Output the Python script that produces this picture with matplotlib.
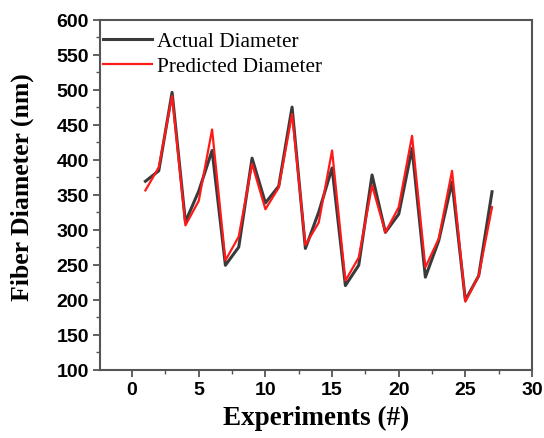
import matplotlib
matplotlib.use("Agg")
import matplotlib.pyplot as plt
from matplotlib.ticker import MultipleLocator

experiments = list(range(1, 28))
actual = [369, 384, 496, 311, 355, 413, 249, 275, 402, 338, 362, 475, 273, 325,
          388, 220, 249, 378, 296, 322, 416, 232, 284, 368, 199, 234, 354]
predicted = [356, 389, 491, 306, 341, 443, 256, 290, 394, 329, 360, 465, 278, 310,
             413, 227, 260, 363, 296, 332, 434, 246, 287, 384, 197, 234, 332]

fig = plt.figure(figsize=(5.44, 4.39), dpi=100)
ax = fig.add_axes([0.184, 0.156, 0.794, 0.797])

ax.plot(experiments, actual, color='#3a3a3a', lw=2.2, label='Actual Diameter')
ax.plot(experiments, predicted, color='#ff1a1a', lw=1.6, label='Predicted Diameter')

ax.set_xlim(-2.4, 30)
ax.set_ylim(100, 600)
ax.xaxis.set_major_locator(MultipleLocator(5))
ax.xaxis.set_minor_locator(MultipleLocator(2.5))
ax.yaxis.set_major_locator(MultipleLocator(50))
ax.yaxis.set_minor_locator(MultipleLocator(25))

spine_col = '#555555'
for s in ax.spines.values():
    s.set_color(spine_col)
    s.set_linewidth(1.5)
ax.tick_params(which='major', direction='out', length=5, width=1.3, color=spine_col, pad=3)
ax.tick_params(which='minor', direction='out', length=3, width=1.0, color=spine_col)
for lab in ax.get_xticklabels() + ax.get_yticklabels():
    lab.set_fontfamily('Liberation Sans')
    lab.set_fontweight('bold')
    lab.set_fontsize(14)

ax.set_xlabel('Experiments (#)', fontfamily='Liberation Serif', fontweight='bold', fontsize=19.5, labelpad=5)
ax.set_ylabel('Fiber Diameter (nm)', fontfamily='Liberation Serif', fontweight='bold', fontsize=18.5)
ax.yaxis.set_label_coords(-0.152, 0.523)

leg = ax.legend(loc='upper left', bbox_to_anchor=(0.0, 0.976), frameon=False,
                prop={'family': 'Liberation Serif', 'size': 15.3},
                handlelength=2.3, handletextpad=0.25, borderaxespad=0.15, borderpad=0.0,
                labelspacing=0.25)

fig.savefig('out.png', dpi=100)
